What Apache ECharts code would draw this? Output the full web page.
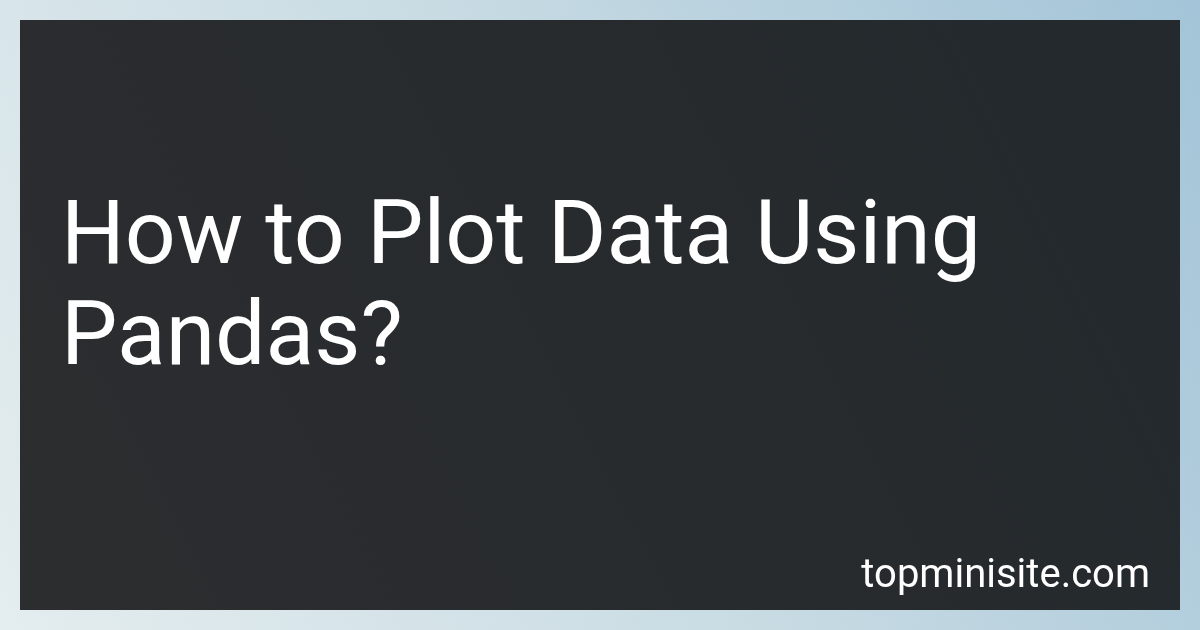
<!DOCTYPE html>
<html>
<head>
<meta charset="utf-8">
<script src="https://cdn.jsdelivr.net/npm/echarts@6/dist/echarts.min.js"></script>
<style>
html,body{margin:0;padding:0;width:1200px;height:630px;overflow:hidden;}
#chart{width:1200px;height:630px;}
</style>
</head>
<body>
<div id="chart"></div>
<script>
const titleLines = ["How to Plot Data Using", "Pandas?"];
const siteLabel = ["topminisite.com"];

const chart = echarts.init(document.getElementById('chart'), null, {renderer: 'canvas'});
const titleEls = titleLines.map((t, i) => ({
  type: 'text',
  left: 61,
  top: 196 + i * 101,
  style: {
    text: t,
    fill: '#ffffff',
    font: '400 89.5px Roboto',
  }
}));
chart.setOption({
  animation: false,
  backgroundColor: {
    type: 'linear', x: 0, y: 1, x2: 1, y2: 0,
    colorStops: [
      {offset: 0, color: '#e4edef'},
      {offset: 0.5, color: '#c8dbe3'},
      {offset: 1, color: '#a3c4d8'}
    ]
  },
  graphic: [
    {
      type: 'rect',
      shape: {x: 20, y: 20, width: 1160, height: 590},
      style: {
        fill: {
          type: 'linear', x: 0, y: 1, x2: 1, y2: 0,
          colorStops: [
            {offset: 0, color: '#2c2d2f'},
            {offset: 1, color: '#23292d'}
          ]
        }
      }
    },
    ...titleEls,
    {
      type: 'text',
      right: 50,
      top: 557,
      style: {
        text: siteLabel[0],
        fill: '#ffffff',
        font: '400 40px Roboto'
      }
    }
  ]
});
</script>
</body>
</html>
